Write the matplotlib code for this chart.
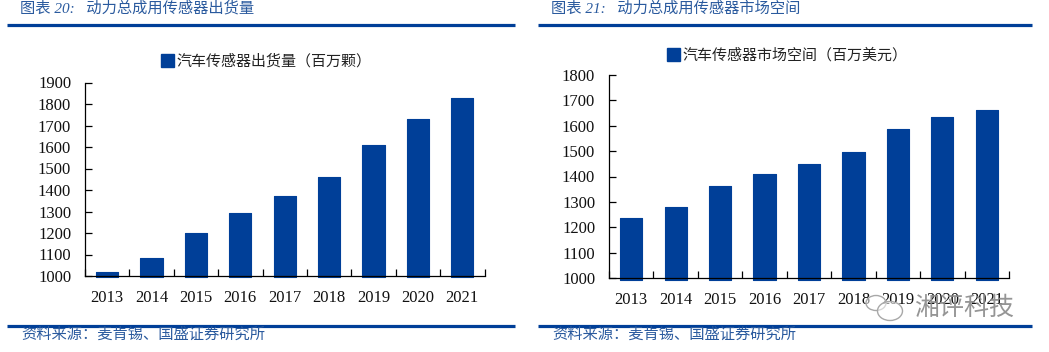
import matplotlib
matplotlib.use('Agg')
import matplotlib.pyplot as plt
from matplotlib.patches import Ellipse, Patch

years = ['2013', '2014', '2015', '2016', '2017', '2018', '2019', '2020', '2021']
shipments = [1020, 1085, 1202, 1295, 1372, 1460, 1610, 1730, 1827]
market = [1235, 1280, 1362, 1408, 1450, 1498, 1585, 1632, 1660]
ticks_left = [1000, 1100, 1200, 1300, 1400, 1500, 1600, 1700, 1800, 1900]
ticks_right = [1000, 1100, 1200, 1300, 1400, 1500, 1600, 1700, 1800]

W, H = 1049, 352
BLUE = '#003f98'
HEAD = '#2a5a9e'
CJK = ['Liberation Serif', 'Noto Sans CJK SC', 'DejaVu Sans']

fig = plt.figure(figsize=(W / 100, H / 100), dpi=100, facecolor='white')


def rule(x0, x1, y):
    fig.add_artist(plt.Line2D([x0 / W, x1 / W], [1 - y / H, 1 - y / H], color=BLUE, lw=2.3,
                              solid_capstyle='butt'))


def label(x, y, s):
    fig.text(x / W, 1 - y / H, s, color=HEAD, fontsize=11, style='italic', family=CJK, va='center')


def panel(left, right, top, bottom, values, ticks, name, leg_x, leg_y):
    ax = fig.add_axes([left / W, 1 - bottom / H, (right - left) / W, (bottom - top) / H])
    xs = range(len(years))
    # bars run a pixel or two under the axis line, as in the original
    base = ticks[0] - (ticks[-1] - ticks[0]) * 0.007
    ax.bar(xs, [v - base for v in values], width=0.5, bottom=base, color=BLUE, edgecolor=BLUE,
           linewidth=0.8, joinstyle='round', clip_on=False)
    ax.set_xlim(-0.5, len(years) - 0.5)
    ax.set_ylim(ticks[0], ticks[-1])
    ax.set_yticks(ticks)
    ax.set_yticklabels(ticks, family='Liberation Serif', fontsize=12, color='#111111')
    ax.set_xticks(list(xs))
    ax.set_xticklabels(years, family='Liberation Serif', fontsize=12, color='#111111')
    ax.set_xticks([i - 0.5 for i in range(len(years) + 1)], minor=True)
    ax.tick_params(axis='x', which='major', length=0, pad=10)
    ax.tick_params(axis='x', which='minor', direction='in', length=5, width=0.9)
    ax.tick_params(axis='y', direction='in', length=5, width=0.9, pad=10)
    ax.spines['top'].set_visible(False)
    ax.spines['right'].set_visible(False)
    ax.spines['left'].set_linewidth(0.9)
    ax.spines['bottom'].set_linewidth(0.9)
    ax.patch.set_alpha(0)
    fig.legend(handles=[Patch(facecolor=BLUE, edgecolor=BLUE, joinstyle='round', label=name)],
               loc='center left', bbox_to_anchor=(leg_x / W, 1 - leg_y / H), frameon=False,
               prop={'family': 'Noto Sans CJK SC', 'size': 10.8}, labelcolor='#222222',
               handlelength=0.85, handleheight=1.0, handletextpad=0.15, borderpad=0, borderaxespad=0)
    return ax


rule(7, 515, 25)
rule(538, 1032, 25)
rule(7, 515, 325.5)
rule(538, 1032, 325.5)

label(20, 8, '图表 20:   动力总成用传感器出货量')
label(551, 8, '图表 21:   动力总成用传感器市场空间')
label(21, 335, '资料来源\uff1a麦肯锡、国盛证券研究所')
label(552, 335, '资料来源\uff1a麦肯锡、国盛证券研究所')

panel(85, 484.5, 82.5, 276, shipments, ticks_left, '汽车传感器出货量\uff08百万颗\uff09', 161, 61)
panel(609, 1009, 74.7, 278.3, market, ticks_right, '汽车传感器市场空间\uff08百万美元\uff09', 667, 55)

# watermark over the right panel
for cx, cy, w, h in [(876, 303, 20, 15), (890, 311, 25, 19)]:
    fig.add_artist(Ellipse((cx / W, 1 - cy / H), w / W, h / H, transform=fig.transFigure,
                           facecolor=(1, 1, 1, 0.55), edgecolor='#a8a8a8', lw=1.0, zorder=5))
fig.text(914 / W, 1 - 308 / H, '湘评科技', family='Noto Sans CJK SC', fontsize=18, color='#8a8a8a',
         va='center', zorder=6, alpha=0.9)

fig.savefig('out.png', dpi=100)
